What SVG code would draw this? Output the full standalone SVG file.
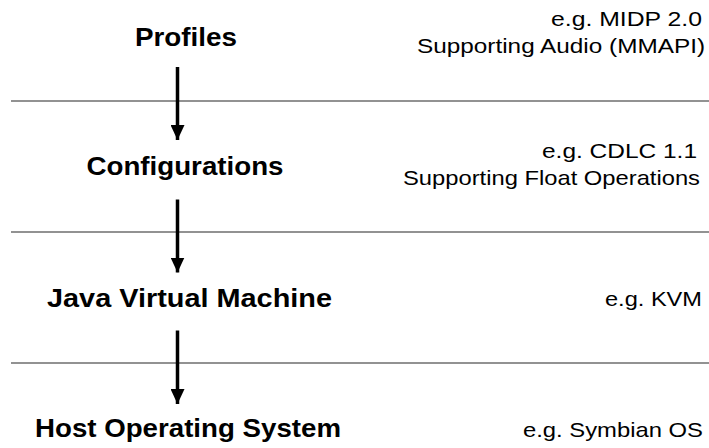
<svg xmlns="http://www.w3.org/2000/svg" width="709" height="448" viewBox="0 0 709 448">
<style>
.t{font-family:"Liberation Sans",Arial,sans-serif;font-weight:bold;font-size:25px;fill:#000}
.n{font-family:"Liberation Sans",Arial,sans-serif;font-size:21px;fill:#000}
.sep{stroke:#6e6e6e;stroke-width:1.6}
.arr{stroke:#000;stroke-width:3.5}
</style>
<defs>
<marker id="ah" markerUnits="userSpaceOnUse" markerWidth="15" markerHeight="14" refX="15" refY="7" orient="auto" viewBox="0 0 15 14">
<path d="M0,0 L15,7 L0,14 Z" fill="#000"/>
</marker>
</defs>
<rect width="709" height="448" fill="#fff"/>
<g id="separators">
<line class="sep" x1="11" y1="101" x2="709" y2="101"/>
<line class="sep" x1="11" y1="232" x2="709" y2="232"/>
<line class="sep" x1="11" y1="363" x2="709" y2="363"/>
</g>
<g id="connectors">
<path class="arr" d="M177.5,67 V140" marker-end="url(#ah)"/>
<path class="arr" d="M177.5,199.5 V272.5" marker-end="url(#ah)"/>
<path class="arr" d="M177.5,330.5 V404" marker-end="url(#ah)"/>
</g>
<g id="profiles">
<text class="t" x="135" y="46" textLength="102" lengthAdjust="spacingAndGlyphs">Profiles</text>
<text class="n" x="551" y="26" textLength="151" lengthAdjust="spacingAndGlyphs">e.g. MIDP 2.0</text>
<text class="n" x="417" y="53" textLength="288" lengthAdjust="spacingAndGlyphs">Supporting Audio (MMAPI)</text>
</g>
<g id="configurations">
<text class="t" x="86.5" y="175" textLength="197" lengthAdjust="spacingAndGlyphs">Configurations</text>
<text class="n" x="542" y="158" textLength="155" lengthAdjust="spacingAndGlyphs">e.g. CDLC 1.1</text>
<text class="n" x="403" y="185" textLength="297" lengthAdjust="spacingAndGlyphs">Supporting Float Operations</text>
</g>
<g id="jvm">
<text class="t" x="47" y="306.5" textLength="285" lengthAdjust="spacingAndGlyphs">Java Virtual Machine</text>
<text class="n" x="605" y="306" textLength="97" lengthAdjust="spacingAndGlyphs">e.g. KVM</text>
</g>
<g id="host-os">
<text class="t" x="35" y="437" textLength="306" lengthAdjust="spacingAndGlyphs">Host Operating System</text>
<text class="n" x="523" y="437" textLength="180" lengthAdjust="spacingAndGlyphs">e.g. Symbian OS</text>
</g>
</svg>
